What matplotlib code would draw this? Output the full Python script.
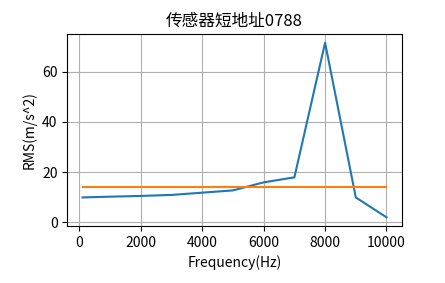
import matplotlib
matplotlib.use("Agg")
import matplotlib.pyplot as plt

plt.rcParams['font.family'] = ['Noto Sans CJK SC', 'DejaVu Sans']
plt.rcParams['axes.unicode_minus'] = False

freq = [100, 1000, 2000, 3000, 4000, 5000, 6000, 7000, 8000, 9000, 10000]
rms = [9.9, 10.2, 10.5, 10.9, 11.8, 12.7, 15.9, 17.9, 71.5, 9.9, 2.0]
threshold = 13.9
title = "传感器短地址0788"

fig = plt.figure(figsize=(4.45, 2.83), dpi=100)
ax = fig.add_axes([67.3/445, 1-226/283, (401.7-67.3)/445, (226-34)/283])
ax.plot(freq, rms, color='#1f77b4')
ax.plot([freq[0], freq[-1]], [threshold, threshold], color='#ff7f0e')
ax.grid(True)
ax.set_title(title, fontsize=12)
ax.set_xlabel("Frequency(Hz)")
ax.set_ylabel("RMS(m/s^2)")
fig.savefig("out.png", dpi=100)
